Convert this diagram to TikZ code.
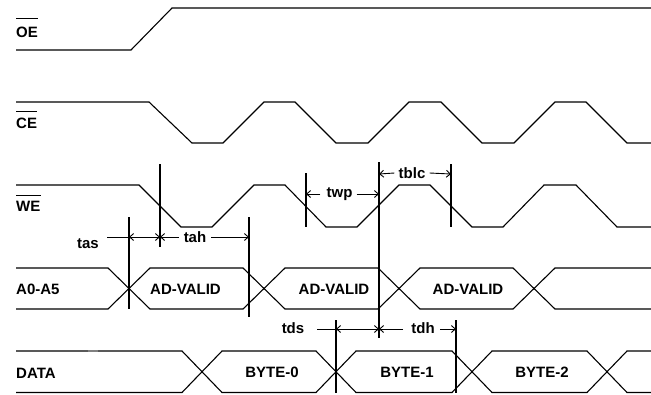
\documentclass[tikz,border=0pt]{standalone}
\usepackage{fontspec}
\setmainfont{Liberation Sans}
\usetikzlibrary{arrows.meta}
\begin{document}
\begin{tikzpicture}[x=1pt,y=-1pt,
  sig/.style={line width=1.1pt, line join=miter},
  vline/.style={line width=1.1pt},
  dim/.style={line width=0.9pt},
  dimarrow/.style={line width=0.9pt, -{Straight Barb[length=4pt,width=7pt,line width=0.9pt]}},
  dimboth/.style={line width=0.9pt, {Straight Barb[length=4pt,width=7pt,line width=0.9pt]}-{Straight Barb[length=4pt,width=7pt,line width=0.9pt]}},
  lbl/.style={font=\fontsize{15}{18}\selectfont\bfseries, inner sep=0pt},
  ovl/.style={line width=1pt}]
\useasboundingbox (0,0) rectangle (651,394);

% signal names
\node[lbl, anchor=base west] (oe) at (16,37) {OE};
\node[lbl, anchor=base west] (ce) at (16,128) {CE};
\node[lbl, anchor=base west] (we) at (16,211) {WE};
\node[lbl, anchor=base west] (addr) at (16,294) {A0-A5};
\node[lbl, anchor=base west] (data) at (16,378) {DATA};
\draw[ovl] ([yshift=8pt]oe.north west) -- ([yshift=8pt]oe.north east);
\draw[ovl] ([yshift=6pt]ce.north west) -- ([yshift=6pt]ce.north east);
\draw[ovl] ([yshift=5pt]we.north west) -- ([yshift=5pt]we.north east);

% OE
\draw[sig] (16,50) -- (131,50) -- (172,8) -- (651,8);
% CE
\draw[sig] (16,102) -- (149,102) -- (192,143) -- (223,143) -- (264,102) -- (295,102)
  -- (336,143) -- (368,143) -- (409,102) -- (441,102) -- (482,143) -- (514,143)
  -- (555,102) -- (586,102) -- (627,143) -- (651,143);
% WE
\draw[sig] (16,185) -- (139,185) -- (181,227) -- (212,227) -- (254,185) -- (285,185)
  -- (326,227) -- (357,227) -- (399,185) -- (430,185) -- (472,227) -- (503,227)
  -- (544,185) -- (576,185) -- (617,227) -- (651,227);
% A0-A5 bus
\draw[sig] (16,268) -- (108,268) -- (150,309) -- (243,309) -- (285,268) -- (378,268)
  -- (420,309) -- (513,309) -- (555,268) -- (651,268);
\draw[sig] (16,309) -- (108,309) -- (150,268) -- (243,268) -- (285,309) -- (378,309)
  -- (420,268) -- (513,268) -- (555,309) -- (651,309);
% DATA bus
\draw[sig] (16,351) -- (182,351) -- (222,392.5) -- (316,392.5) -- (356,351) -- (452,351)
  -- (492,392.5) -- (587,392.5) -- (627,351) -- (651,351);
\draw[sig] (16,392.5) -- (182,392.5) -- (222,351) -- (316,351) -- (356,392.5) -- (452,392.5)
  -- (492,351) -- (587,351) -- (627,392.5) -- (651,392.5);
\draw[line width=2.2pt, gray] (88,350.6) -- (98,350.6);

% bus labels
\node[lbl, anchor=base] (v1) at (185.5,294) {AD-VALID};
\node[lbl, anchor=base] (v2) at (334,294) {AD-VALID};
\node[lbl, anchor=base] (v3) at (468,294) {AD-VALID};
\node[lbl, anchor=base] (b0) at (272,377) {BYTE-0};
\node[lbl, anchor=base] (b1) at (407,377) {BYTE-1};
\node[lbl, anchor=base] (b2) at (542,377) {BYTE-2};

% vertical timing lines
\coordinate (l1t) at (129,217); \coordinate (l1b) at (129,309);
\coordinate (l2t) at (160,164); \coordinate (l2b) at (160,247);
\coordinate (l3t) at (249,217); \coordinate (l3b) at (249,317);
\coordinate (l4t) at (306,173); \coordinate (l4b) at (306,227);
\coordinate (l5t) at (379,162); \coordinate (l5b) at (379,338);
\coordinate (l6t) at (451,164); \coordinate (l6b) at (451,227);
\coordinate (l7t) at (336,320); \coordinate (l7b) at (336,393);
\coordinate (l8t) at (456,320); \coordinate (l8b) at (456,393);
\foreach \i in {1,...,8} \draw[vline] (l\i t) -- (l\i b);

% tas / tah
\node[lbl, anchor=base] (tas) at (88,248) {tas};
\node[lbl] (tah) at (195,237) {tah};
\draw[dim] (107,237) -- (129,237);
\draw[dimboth] (129,237) -- (160,237);
\draw[dimarrow] (tah.west) ++(-5,0) -- (160,237);
\draw[dimarrow] (tah.east) ++(5,0) -- (249,237);

% twp
\node[lbl] (twp) at (339.5,194) {twp};
\draw[dimarrow] (twp.west) ++(-6,0) -- (306,194);
\draw[dimarrow] (twp.east) ++(4,0) -- (379,194);

% tblc
\node[lbl] (tblc) at (412,173) {tblc};
\draw[dimarrow] (tblc.west) ++(-4,0) -- (379,174);
\draw[dimarrow] (tblc.east) ++(4,0) -- (451,174);

% tds / tdh
\node[lbl, anchor=base] (tds) at (293,333) {tds};
\node[lbl, anchor=base] (tdh) at (423,333) {tdh};
\draw[dim] (317,329) -- (336,329);
\draw[dimboth] (336,329) -- (379,329);
\draw[dimarrow] (403,329) -- (379,329);
\draw[dimarrow] (440,329) -- (456,329);
\end{tikzpicture}
\end{document}
